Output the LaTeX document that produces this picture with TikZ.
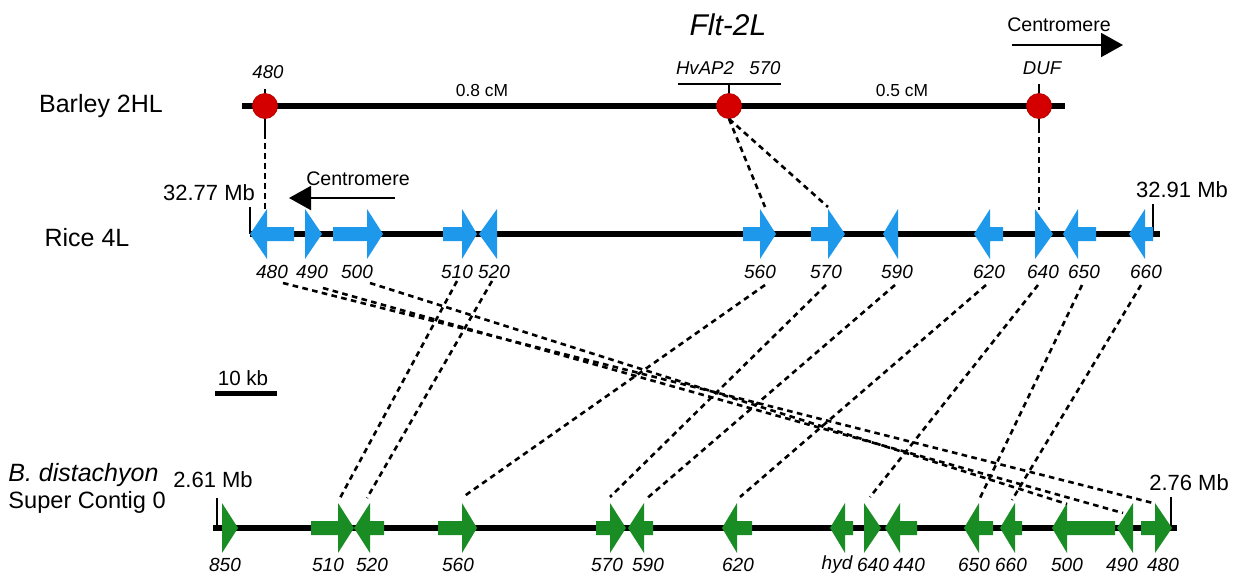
\documentclass[tikz,border=0pt]{standalone}
\usepackage{fontspec}
\setmainfont{Liberation Sans}
\usetikzlibrary{arrows.meta}

\definecolor{riceblue}{RGB}{30,152,235}
\definecolor{brachygreen}{RGB}{25,140,35}
\definecolor{markerred}{RGB}{212,0,0}

% gene arrow: colour, line y, tail x, head base x, tip x
\newcommand{\genearrow}[5]{%
  \fill[#1] (#3,#2-7) -- (#4,#2-7) -- (#4,#2-25) -- (#5,#2) -- (#4,#2+25) -- (#4,#2+7) -- (#3,#2+7) -- cycle;}

\begin{document}
\begin{tikzpicture}[
            x=0.5pt, y=-0.5pt,
            every node/.style={inner sep=0pt},
            chrom/.style={line width=3.3pt},
            tick/.style={line width=1pt},
            link/.style={line width=1.3pt, dash pattern=on 2.8pt off 2.2pt},
            centro/.style={line width=1pt, -{Triangle[length=11pt, width=12pt]}},
            markerdot/.style={circle, fill=markerred, draw=markerred!85!black, minimum size=12.5pt},
            title/.style={font=\fontsize{15}{17}\selectfont\itshape},
            species/.style={font=\fontsize{12.5}{14}\selectfont},
            mbpos/.style={font=\fontsize{11}{12}\selectfont},
            dist/.style={font=\fontsize{8.7}{10}\selectfont},
            marker/.style={font=\fontsize{9.3}{10}\selectfont\itshape},
            genelab/.style={font=\fontsize{9.5}{10}\selectfont\itshape}
          ]
        \useasboundingbox (0,0) rectangle (1246,580);

        % barley map
        \node[title] (flt) at (728,25) {Flt-2L};
        \node[species] (barley) at (101,106) {Barley 2HL};
        \node[dist] (cm08) at (482,91) {0.8 cM};
        \node[dist] (cm05) at (902,91) {0.5 cM};
        \node[marker] (m480) at (268,72) {480};
        \node[marker] (mhv) at (705,68) {HvAP2};
        \node[marker] (m570) at (765,68) {570};
        \node[marker] (mduf) at (1042,68) {DUF};
        \node[mbpos, font=\fontsize{9.8}{11}\selectfont] (cen1) at (1059,25) {Centromere};
        \coordinate (cen1a) at (1012,45);
        \coordinate (cen1b) at (1123,45);
        \draw[centro] (cen1a) -- (cen1b);

        \draw[chrom] (242,106) -- (1065,106);
        \draw[tick] (265,89) -- (265,133);
        \draw[tick] (678,84) -- (781,84);
        \draw[tick] (729,84) -- (729,106);
        \draw[tick] (1039,84) -- (1039,127);
        \node[markerdot] (d480) at (265,106) {};
        \node[markerdot] (dhv) at (729,106) {};
        \node[markerdot] (dduf) at (1039,106) {};

        % rice
        \node[species] (rice) at (87,238) {Rice 4L};
        \node[mbpos] (mb1) at (209,193) {32.77 Mb};
        \node[mbpos] (mb2) at (1182,190) {32.91 Mb};
        \node[mbpos, font=\fontsize{9.8}{11}\selectfont] (cen2) at (358,179) {Centromere};
        \coordinate (cen2a) at (395,198);
        \coordinate (cen2b) at (289,198);
        \draw[centro] (cen2a) -- (cen2b);

        \draw[chrom] (250,234) -- (1160,234);
        \draw[tick] (250,207) -- (250,234);
        \draw[tick] (1153,204) -- (1153,234);
        \genearrow{riceblue}{234}{294}{267}{250}
        \genearrow{riceblue}{234}{305}{305}{322}
        \genearrow{riceblue}{234}{333}{367}{383}
        \genearrow{riceblue}{234}{443}{462}{477}
        \genearrow{riceblue}{234}{497}{497}{479}
        \genearrow{riceblue}{234}{743}{760}{776}
        \genearrow{riceblue}{234}{811}{828}{845}
        \genearrow{riceblue}{234}{898}{898}{883}
        \genearrow{riceblue}{234}{1003}{990}{974}
        \genearrow{riceblue}{234}{1035}{1035}{1053}
        \genearrow{riceblue}{234}{1096}{1078}{1063}
        \genearrow{riceblue}{234}{1153}{1145}{1129}

        \node[genelab] (r480) at (272,272) {480};
        \node[genelab] (r490) at (312,272) {490};
        \node[genelab] (r500) at (357,272) {500};
        \node[genelab] (r510) at (457,272) {510};
        \node[genelab] (r520) at (494,272) {520};
        \node[genelab] (r560) at (760,272) {560};
        \node[genelab] (r570) at (826,272) {570};
        \node[genelab] (r590) at (897,272) {590};
        \node[genelab] (r620) at (989,272) {620};
        \node[genelab] (r640) at (1043,272) {640};
        \node[genelab] (r650) at (1084,272) {650};
        \node[genelab] (r660) at (1146,272) {660};

        % scale
        \node[mbpos, font=\fontsize{10.3}{12}\selectfont] (kb) at (243,378) {10 kb};
        \draw[line width=2.5pt] (215,393) -- (277,393);

        % Brachypodium
        \node[species, font=\fontsize{12.5}{14}\selectfont\itshape, anchor=west] (bdi) at (8,475) {B. distachyon};
        \node[species, font=\fontsize{11.8}{14}\selectfont, anchor=west] (contig) at (8,502) {Super Contig 0};
        \node[mbpos] (mb3) at (213,480) {2.61 Mb};
        \node[mbpos] (mb4) at (1189,483) {2.76 Mb};

        \draw[chrom] (213,528) -- (1177,528);
        \draw[tick] (217,498) -- (217,528);
        \draw[tick] (1171,497) -- (1171,528);
        \genearrow{brachygreen}{528}{222}{222}{238}
        \genearrow{brachygreen}{528}{311}{338}{354}
        \genearrow{brachygreen}{528}{384}{370}{354}
        \genearrow{brachygreen}{528}{438}{462}{477}
        \genearrow{brachygreen}{528}{596}{610}{626}
        \genearrow{brachygreen}{528}{653}{644}{628}
        \genearrow{brachygreen}{528}{752}{737}{722}
        \genearrow{brachygreen}{528}{853}{845}{830}
        \genearrow{brachygreen}{528}{864}{864}{881}
        \genearrow{brachygreen}{528}{917}{900}{885}
        \genearrow{brachygreen}{528}{993}{979}{964}
        \genearrow{brachygreen}{528}{1022}{1015}{1000}
        \genearrow{brachygreen}{528}{1115}{1067}{1052}
        \genearrow{brachygreen}{528}{1133}{1133}{1117}
        \genearrow{brachygreen}{528}{1141}{1155}{1172}

        \node[genelab] (b850) at (225,565) {850};
        \node[genelab] (b510) at (328,565) {510};
        \node[genelab] (b520) at (372,565) {520};
        \node[genelab] (b560) at (458,565) {560};
        \node[genelab] (b570) at (607,565) {570};
        \node[genelab] (b590) at (648,565) {590};
        \node[genelab] (b620) at (738,565) {620};
        \node[genelab] (bhyd) at (837,565) {hyd};
        \node[genelab] (b640) at (873,565) {640};
        \node[genelab] (b440) at (909,565) {440};
        \node[genelab] (b650) at (974,565) {650};
        \node[genelab] (b660) at (1011,565) {660};
        \node[genelab] (b500) at (1067,565) {500};
        \node[genelab] (b490) at (1122,565) {490};
        \node[genelab] (b480) at (1163,565) {480};

        % barley to rice
        \coordinate (d480s) at (265,133);
        \coordinate (dduf) at (1039,127);
        \coordinate (rt480) at (265,210);
        \coordinate (rt560) at (765,207);
        \coordinate (rt570) at (828,207);
        \coordinate (rt640) at (1039,210);
        \draw[link] (d480s) -- (rt480);
        \draw[link] (dhv.south) -- (rt560);
        \draw[link] (dhv.south) -- (rt570);
        \draw[link] (dduf) -- (rt640);

        % rice to Brachypodium
        \coordinate (rs480) at (283,283);  \coordinate (bt480) at (1153,503);
        \coordinate (rs490) at (323,288);  \coordinate (bt490) at (1123,513);
        \coordinate (rs500) at (370,283);  \coordinate (bt500) at (1067,504);
        \coordinate (rs510) at (457,281);  \coordinate (bt510) at (340,498);
        \coordinate (rs520) at (492,281);  \coordinate (bt520) at (367,498);
        \coordinate (rs560) at (765,285);  \coordinate (bt560) at (463,497);
        \coordinate (rs570) at (826,285);  \coordinate (bt570) at (610,497);
        \coordinate (rs590) at (895,285);  \coordinate (bt590) at (645,500);
        \coordinate (rs620) at (986,285);  \coordinate (bt620) at (740,497);
        \coordinate (rs640) at (1038,285); \coordinate (bt640) at (870,497);
        \coordinate (rs650) at (1082,285); \coordinate (bt650) at (979,500);
        \coordinate (rs660) at (1141,285); \coordinate (bt660) at (1012,500);
        \draw[link] (rs480) -- (bt480);
        \draw[link] (rs490) -- (bt490);
        \draw[link] (rs500) -- (bt500);
        \draw[link] (rs510) -- (bt510);
        \draw[link] (rs520) -- (bt520);
        \draw[link] (rs560) -- (bt560);
        \draw[link] (rs570) -- (bt570);
        \draw[link] (rs590) -- (bt590);
        \draw[link] (rs620) -- (bt620);
        \draw[link] (rs640) -- (bt640);
        \draw[link] (rs650) -- (bt650);
        \draw[link] (rs660) -- (bt660);

        \end{tikzpicture}
\end{document}
